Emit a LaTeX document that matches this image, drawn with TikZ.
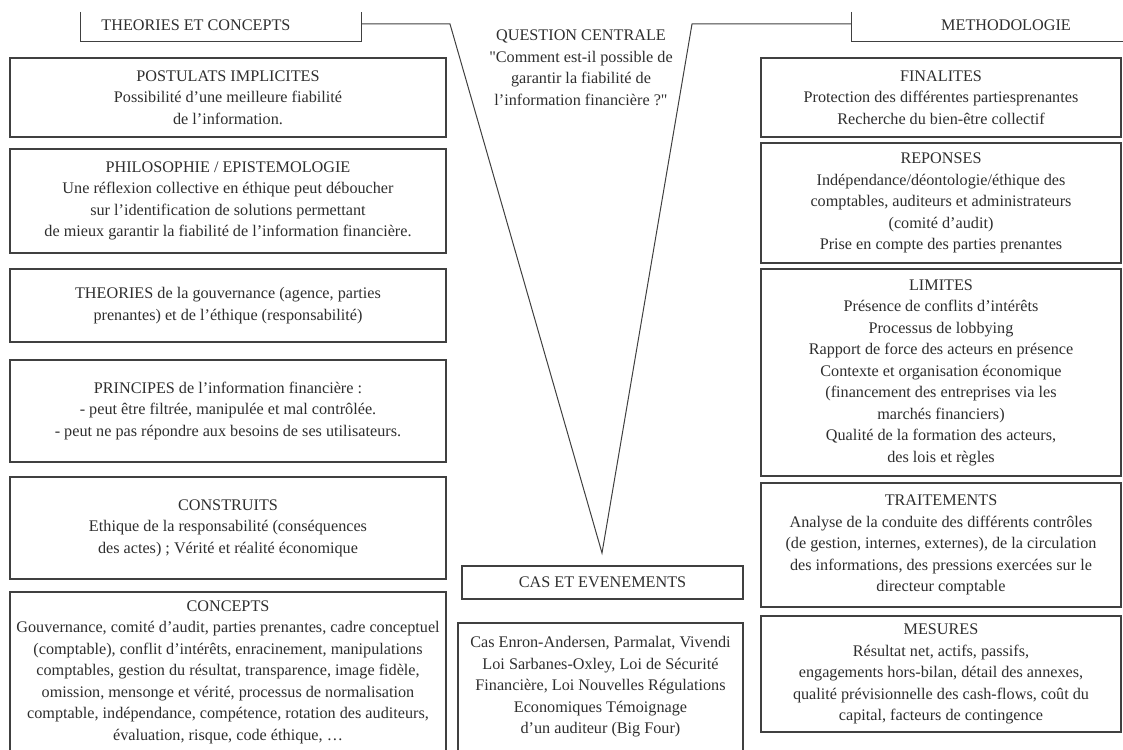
\documentclass[tikz,border=0pt]{standalone}
\usepackage{fontspec}
\setmainfont{Liberation Serif}
\usetikzlibrary{positioning}
\definecolor{ink}{rgb}{0.18,0.18,0.18}
\definecolor{rule}{rgb}{0.25,0.25,0.25}

\begin{document}
\begin{tikzpicture}
	    [x=1pt, y=-1pt,
	    box/.style={draw=rule, line width=1.3pt, align=center, inner sep=2pt, text=ink},
	    title/.style={align=center, text=ink, inner sep=0pt},
	    frame/.style={draw=rule, line width=1pt},
	    font=\fontsize{16.2}{21.5}\selectfont]
	     \clip (0,0) rectangle (1123,749);
	     % left column
	     \node[title] (theotitle) at (196,25) {THEORIES ET CONCEPTS};
	     \node[box, minimum width=436, minimum height=79] (post) at (228,97.5)
	       {POSTULATS IMPLICITES\\Possibilité d’une meilleure fiabilité\\de l’information.};
	     \node[box, minimum width=436, minimum height=104] (philo) at (228,201)
	       {PHILOSOPHIE / EPISTEMOLOGIE\\Une réflexion collective en éthique peut déboucher\\sur l’identification de solutions permettant\\de mieux garantir la fiabilité de l’information financière.};
	     \node[box, minimum width=436, minimum height=73] (theo) at (228,305.5)
	       {THEORIES de la gouvernance (agence, parties\\prenantes) et de l’éthique (responsabilité)};
	     \node[box, minimum width=436, minimum height=102] (princ) at (228,411)
	       {PRINCIPES de l’information financière :\\- peut être filtrée, manipulée et mal contrôlée.\\- peut ne pas répondre aux besoins de ses utilisateurs.};
	     \node[box, minimum width=436, minimum height=102] (constr) at (228,528)
	       {CONSTRUITS\\Ethique de la responsabilité (conséquences\\des actes) ; Vérité et réalité économique};
	     \node[box, minimum width=436, minimum height=160] (conc) at (228,672)
	       {CONCEPTS\\Gouvernance, comité d’audit, parties prenantes, cadre conceptuel\\(comptable), conflit d’intérêts, enracinement, manipulations\\comptables, gestion du résultat, transparence, image fidèle,\\omission, mensonge et vérité, processus de normalisation\\comptable, indépendance, compétence, rotation des auditeurs,\\évaluation, risque, code éthique, …};
	     % middle
	     \node[title] (question) at (581,68)
	       {QUESTION CENTRALE\\\textquotedbl Comment est-il possible de\\garantir la fiabilité de\\l’information financière ?\textquotedbl};
	     \node[box, minimum width=281, minimum height=33] (cas) at (602.5,582.5) {CAS ET EVENEMENTS};
	     \node[box, minimum width=285, minimum height=128] (evts) at (600.5,687)
	       {Cas Enron-Andersen, Parmalat, Vivendi\\Loi Sarbanes-Oxley, Loi de Sécurité\\Financière, Loi Nouvelles Régulations\\Economiques Témoignage\\d’un auditeur (Big Four)};
	     % right column
	     \node[title] (methtitle) at (1006,25) {METHODOLOGIE};
	     \node[box, minimum width=360, minimum height=79] (fin) at (941,97.5)
	       {FINALITES\\Protection des différentes partiesprenantes\\Recherche du bien-être collectif};
	     \node[box, minimum width=360, minimum height=120] (rep) at (941,203)
	       {REPONSES\\Indépendance/déontologie/éthique des\\comptables, auditeurs et administrateurs\\(comité d’audit)\\Prise en compte des parties prenantes};
	     \node[box, minimum width=360, minimum height=207] (lim) at (941,372.5)
	       {LIMITES\\Présence de conflits d’intérêts\\Processus de lobbying\\Rapport de force des acteurs en présence\\Contexte et organisation économique\\(financement des entreprises via les\\marchés financiers)\\Qualité de la formation des acteurs,\\des lois et règles};
	     \node[box, minimum width=360, minimum height=124] (trait) at (941,545)
	       {TRAITEMENTS\\Analyse de la conduite des différents contrôles\\(de gestion, internes, externes), de la circulation\\des informations, des pressions exercées sur le\\directeur comptable};
	     \node[box, minimum width=360, minimum height=116] (mes) at (941,674)
	       {MESURES\\Résultat net, actifs, passifs,\\engagements hors-bilan, détail des annexes,\\qualité prévisionnelle des cash-flows, coût du\\capital, facteurs de contingence};
	     % funnel
	     \coordinate (vl) at (450,24);
	     \coordinate (vr) at (692,24);
	     \coordinate (apex) at (602,553);
	     \draw[frame] (80,12) -- (80,42) -- (361,42) -- (361,12);
	     \draw[frame] (361,24) -- (vl) -- (apex) -- (vr) -- (851,24);
	     \draw[frame] (851,12) -- (851,42) -- (1126,42);
\end{tikzpicture}
\end{document}
